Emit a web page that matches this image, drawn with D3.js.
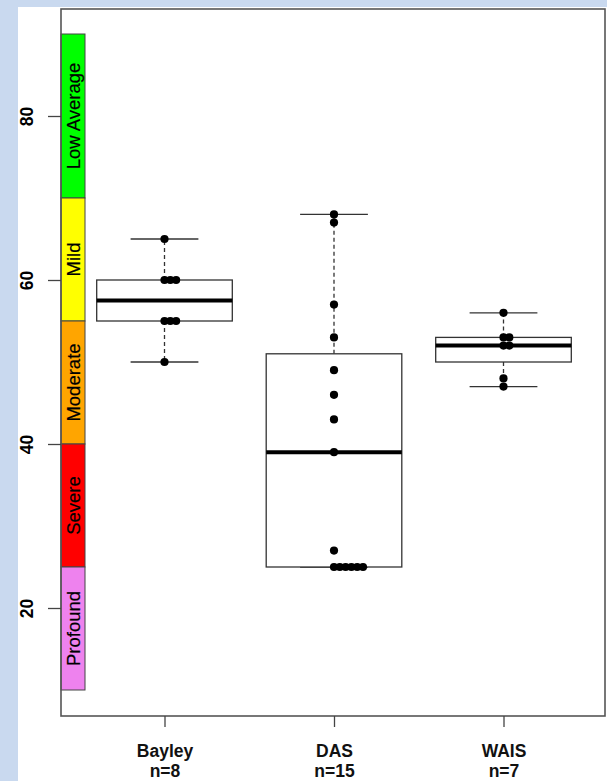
<!DOCTYPE html>
<html>
<head>
<meta charset="utf-8">
<script src="https://cdn.jsdelivr.net/npm/d3@7"></script>
<style>
  body { margin: 0; background: #c9d9ef; }
  svg { display: block; }
</style>
</head>
<body>
<script>
// data
var groups = ["Bayley", "DAS", "WAIS"];
var groupN = ["n=8", "n=15", "n=7"];
var bayley = [65, 60, 60, 60, 55, 55, 55, 50];
var das = [68, 67, 57, 53, 49, 46, 43, 39, 27, 25, 25, 25, 25, 25, 25];
var wais = [56, 53, 53, 52, 52, 48, 47];
var groupValues = [bayley, das, wais];

var bandLabels = ["Low Average", "Mild", "Moderate", "Severe", "Profound"];
var bandLow = [70, 55, 40, 25, 10];
var bandHigh = [90, 70, 55, 40, 25];
var bandColors = ["#00ff00", "#ffff00", "#ffa500", "#ff0000", "#ee82ee"];

var yTicks = [20, 40, 60, 80];

window.onload = function(){
    var width = 607, height = 781;
    var left = 61, right = 605, top = 9, bottom = 716;

    var svg = d3.select('body').append('svg')
        .attr('width', width)
        .attr('height', height);

    // blue page and white panel
    svg.append('rect').attr('width', width).attr('height', height).style('fill', '#c9d9ef');
    svg.append('rect').attr('x', 18).attr('y', 7)
        .attr('width', width - 18).attr('height', height - 7).style('fill', '#fff');

    var x = d3.scaleLinear().domain([1, 3]).range([164.5, 503.5]);
    var y = d3.scaleLinear().domain([20, 80]).range([608, 116]);
    var unit = x(2) - x(1);

    // severity bands down the left side
    var bands = svg.append('g');
    bands.selectAll('rect')
        .data(bandLabels)
        .enter().append('rect')
        .attr('x', left)
        .attr('width', 24)
        .attr('y', function(d, i){ return y(bandHigh[i]); })
        .attr('height', function(d, i){ return y(bandLow[i]) - y(bandHigh[i]); })
        .style('fill', function(d, i){ return bandColors[i]; })
        .style('stroke', '#444')
        .style('stroke-width', 1);
    bands.selectAll('text')
        .data(bandLabels)
        .enter().append('text')
        .attr('transform', function(d, i){
            return 'translate(' + (left + 12.5) + ',' + y((bandLow[i] + bandHigh[i]) / 2) + ') rotate(-90)';
        })
        .attr('text-anchor', 'middle')
        .attr('dy', '0.36em')
        .style('font-family', 'Liberation Sans, Arial, sans-serif')
        .style('font-size', '18.5px')
        .style('fill', '#000')
        .style('stroke', '#000')
        .style('stroke-width', 0.2)
        .text(function(d){ return d; });

    // box statistics (Tukey hinges, whiskers to 1.5 IQR)
    function stats(vals){
        var s = vals.slice().sort(d3.ascending);
        var n = s.length;
        var h = Math.floor((n + 3) / 2) / 2;
        var idx = [1, h, (n + 1) / 2, n + 1 - h, n];
        var f = idx.map(function(k){ return 0.5 * (s[Math.floor(k) - 1] + s[Math.ceil(k) - 1]); });
        var iqr = f[3] - f[1];
        var inside = s.filter(function(v){ return v >= f[1] - 1.5 * iqr && v <= f[3] + 1.5 * iqr; });
        return { lo: d3.min(inside), q1: f[1], med: f[2], q3: f[3], hi: d3.max(inside) };
    }

    var boxes = svg.append('g');
    groupValues.forEach(function(vals, i){
        var st = stats(vals);
        var cx = x(i + 1);
        var g = boxes.append('g');
        // whiskers
        g.append('line').attr('x1', cx).attr('x2', cx).attr('y1', y(st.q3)).attr('y2', y(st.hi))
            .style('stroke', '#333').style('stroke-width', 1.3).style('stroke-dasharray', '4,3');
        g.append('line').attr('x1', cx).attr('x2', cx).attr('y1', y(st.q1)).attr('y2', y(st.lo))
            .style('stroke', '#333').style('stroke-width', 1.3).style('stroke-dasharray', '4,3');
        // caps
        [st.hi, st.lo].forEach(function(v){
            g.append('line').attr('x1', cx - 0.2 * unit).attr('x2', cx + 0.2 * unit)
                .attr('y1', y(v)).attr('y2', y(v))
                .style('stroke', '#333').style('stroke-width', 1.3);
        });
        // box
        g.append('rect').attr('x', cx - 0.4 * unit).attr('width', 0.8 * unit)
            .attr('y', y(st.q3)).attr('height', y(st.q1) - y(st.q3))
            .style('fill', '#fff').style('stroke', '#333').style('stroke-width', 1.3);
        // median
        g.append('line').attr('x1', cx - 0.4 * unit).attr('x2', cx + 0.4 * unit)
            .attr('y1', y(st.med)).attr('y2', y(st.med))
            .style('stroke', '#000').style('stroke-width', 4);

        // points, ties laid side by side
        var seen = {};
        var pts = vals.map(function(v){
            var k = seen[v] || 0;
            seen[v] = k + 1;
            return { v: v, k: k };
        });
        g.selectAll('circle')
            .data(pts)
            .enter().append('circle')
            .attr('cx', function(d){ return cx + d.k * 5.8; })
            .attr('cy', function(d){ return y(d.v); })
            .attr('r', 4.1)
            .style('fill', '#000');
    });

    // frame
    svg.append('rect').attr('x', left).attr('y', top)
        .attr('width', right - left).attr('height', bottom - top)
        .style('fill', 'none').style('stroke', '#555').style('stroke-width', 1.6);

    // y axis
    var yAxis = svg.append('g')
        .attr('transform', 'translate(' + left + ',0)')
        .call(d3.axisLeft(y).tickValues(yTicks).tickSize(13).tickFormat(d3.format('d')));
    yAxis.select('.domain').remove();
    yAxis.selectAll('line').style('stroke', '#444').style('stroke-width', 1.3);
    yAxis.selectAll('text')
        .attr('transform', 'rotate(-90)')
        .attr('x', 0).attr('y', -28).attr('dy', 0)
        .attr('text-anchor', 'middle')
        .style('font-family', 'Liberation Sans, Arial, sans-serif')
        .style('font-size', '17.5px')
        .style('font-weight', 'bold')
        .style('fill', '#000');

    // x axis
    var xAxis = svg.append('g')
        .attr('transform', 'translate(0,' + bottom + ')')
        .call(d3.axisBottom(x).tickValues([1, 2, 3]).tickSize(11).tickFormat(''));
    xAxis.select('.domain').remove();
    xAxis.selectAll('line').style('stroke', '#444').style('stroke-width', 1.3);
    xAxis.selectAll('.tick text').remove();
    xAxis.selectAll('.tick').each(function(d){
        var t = d3.select(this).append('text')
            .attr('text-anchor', 'middle')
            .style('font-family', 'Liberation Sans, Arial, sans-serif')
            .style('font-size', '17.5px')
            .style('font-weight', 'bold')
            .style('fill', '#111');
        t.append('tspan').attr('x', 0).attr('y', 41).text(groups[d - 1]);
        t.append('tspan').attr('x', 0).attr('y', 61).text(groupN[d - 1]);
    });
}
</script>
</body>
</html>
